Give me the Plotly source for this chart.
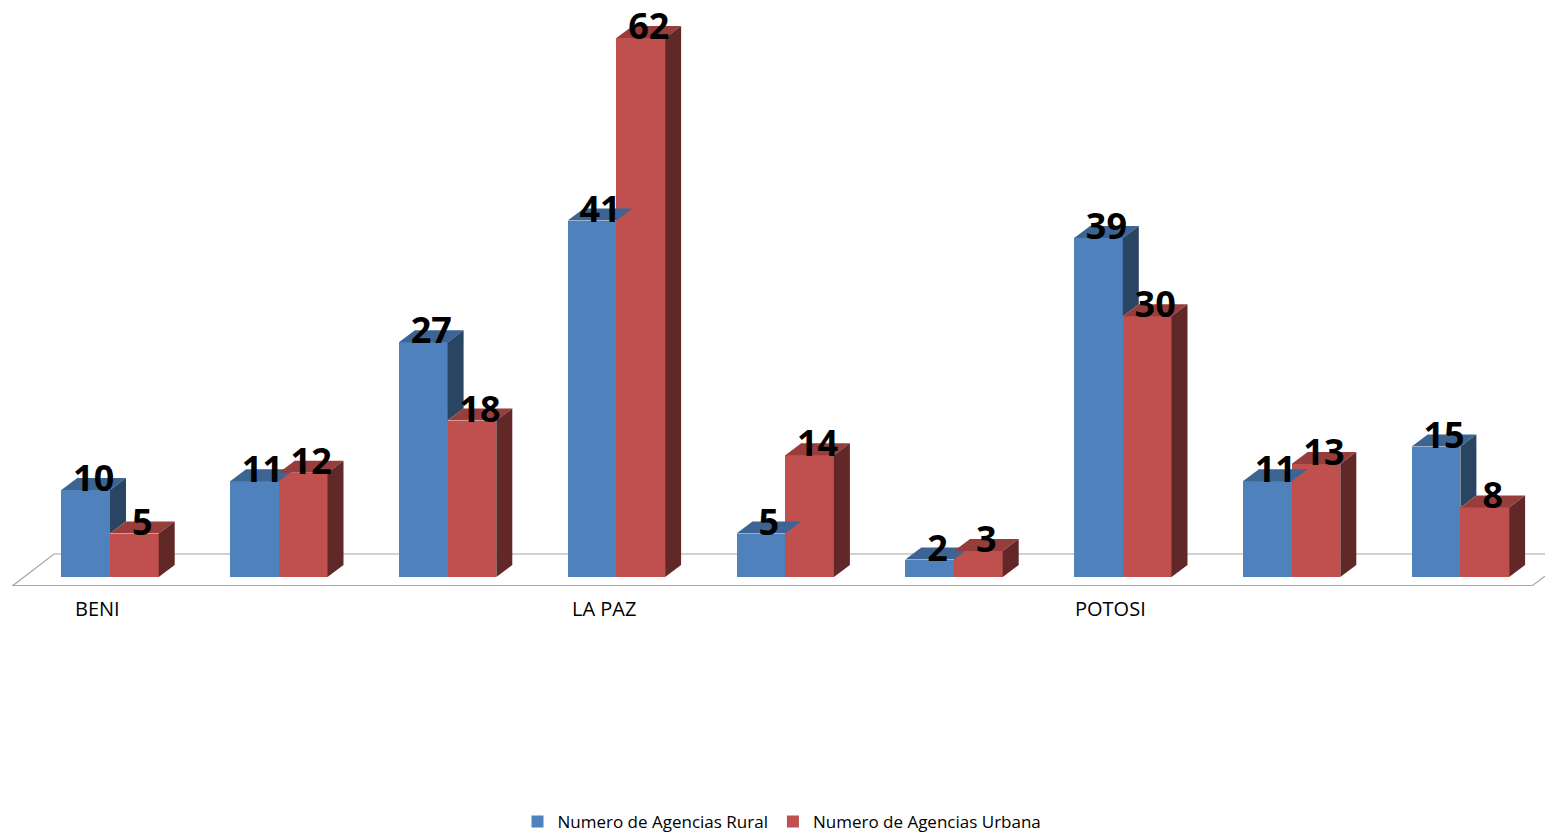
import plotly.graph_objects as go

categories = ["BENI", "CHUQUISACA", "COCHABAMBA", "LA PAZ", "ORURO",
              "PANDO", "POTOSI", "SANTA CRUZ", "TARIJA"]
rural = [10, 11, 27, 41, 5, 2, 39, 11, 15]
urbana = [5, 12, 18, 62, 14, 3, 30, 13, 8]
shown_labels = {0: "BENI", 3: "LA PAZ", 6: "POTOSI"}

W, H = 1553, 835
OX, OY = 8, 8           # page body margin compensation
PX_X = 168.8            # pixels per category
X0 = -(110 - OX) / PX_X
X1 = X0 + W / PX_X
PX_Y = 8.694            # pixels per value unit
BASE = 577 - OY         # figure pixel of value 0
Y0 = -(H - BASE) / PX_Y
Y1 = BASE / PX_Y


def gx(p):
    """page pixel x -> data x"""
    return X0 + (p - OX) / PX_X


def gy(p):
    """page pixel y -> data y"""
    return (577 - p) / PX_Y


BW = 48.7 / PX_X        # bar width (units)
DX = 16 / PX_X          # depth offset x
DY = 12 / PX_Y          # depth offset y
LBL_SHIFT = 4 / PX_Y    # label nudge down

BLUE, BLUE_TOP, BLUE_SIDE = "#4F81BD", "#3D6594", "#2A4563"
RED, RED_TOP, RED_SIDE = "#C0504D", "#973E3C", "#622727"

idx = list(range(len(categories)))
xr = [i - BW / 2 for i in idx]
xu = [i + BW / 2 for i in idx]

fig = go.Figure()

fig.add_trace(go.Bar(x=xr, y=rural, width=BW, marker=dict(color=BLUE, line_width=0),
                     name="Numero de Agencias Rural", hoverinfo="skip"))
fig.add_trace(go.Bar(x=xu, y=urbana, width=BW, marker=dict(color=RED, line_width=0),
                     name="Numero de Agencias Urbana", hoverinfo="skip"))


def poly(xs, ys, color):
    fig.add_trace(go.Scatter(x=xs + [xs[0]], y=ys + [ys[0]], mode="lines", fill="toself",
                             fillcolor=color, line=dict(width=0, color=color),
                             showlegend=False, hoverinfo="skip"))


for i in idx:
    hb, hr = rural[i], urbana[i]
    l, r = xr[i] - BW / 2, xr[i] + BW / 2
    poly([l, r, r + DX, l + DX], [hb, hb, hb + DY, hb + DY], BLUE_TOP)
    if hb > hr:
        poly([r, r + DX, r + DX, r], [hr, hr + DY, hb + DY, hb], BLUE_SIDE)
    l2, r2 = xu[i] - BW / 2, xu[i] + BW / 2
    poly([l2, r2, r2 + DX, l2 + DX], [hr, hr, hr + DY, hr + DY], RED_TOP)
    poly([r2, r2 + DX, r2 + DX, r2], [0, DY, hr + DY, hr], RED_SIDE)

lab_x = [x + DX / 2 for x in xr] + [x + DX / 2 for x in xu]
lab_y = [v + DY - LBL_SHIFT for v in rural] + [v + DY - LBL_SHIFT for v in urbana]
lab_t = [str(v) for v in rural] + [str(v) for v in urbana]
fig.add_trace(go.Scatter(x=lab_x, y=lab_y, text=lab_t, mode="text",
                         textposition="middle center",
                         textfont=dict(family="Open Sans", size=36, color="black", weight="bold"),
                         showlegend=False, hoverinfo="skip", cliponaxis=False))

# floor outline
fy_f, fy_b = gy(585.5), gy(554)
fig.add_shape(type="path", layer="below", xref="x", yref="y",
              path=(f"M{gx(13)},{fy_f} L{gx(1532.5)},{fy_f} "
                    f"L{gx(1575)},{fy_b} L{gx(54)},{fy_b} Z"),
              line=dict(color="#A6A6A6", width=1.2), fillcolor="white")

for i, name in shown_labels.items():
    fig.add_annotation(x=i - 12.5 / PX_X, y=gy(608), text=name, showarrow=False,
                       xanchor="center", yanchor="middle",
                       font=dict(family="Open Sans", size=20, color="black"))

fig.update_layout(
    width=W, height=H,
    margin=dict(l=0, r=0, t=0, b=0),
    paper_bgcolor="white", plot_bgcolor="white",
    barmode="overlay", bargap=0,
    xaxis=dict(range=[X0, X1], visible=False, fixedrange=True),
    yaxis=dict(range=[Y0, Y1], visible=False, fixedrange=True),
    showlegend=True,
    legend=dict(orientation="h", x=(782 - OX) / W, xanchor="center",
                y=(H - (822 - OY)) / H, yanchor="middle",
                font=dict(family="Open Sans", size=17, color="black"),
                bgcolor="rgba(0,0,0,0)", itemwidth=30, traceorder="normal"),
)

fig.write_html("out.html")
